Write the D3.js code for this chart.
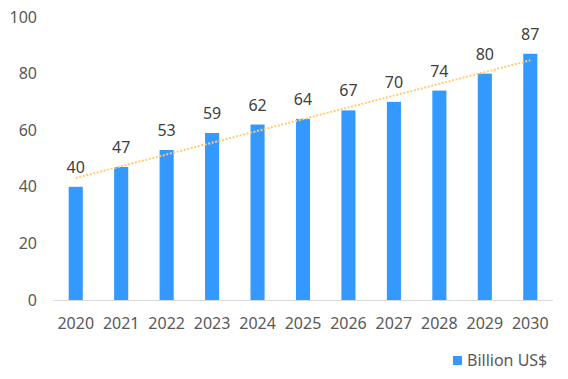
<!DOCTYPE html>
<html><head><meta charset="utf-8">
<script src="https://cdn.jsdelivr.net/npm/d3@7"></script>
<style>html,body{margin:0;padding:0;background:#fff;}svg{display:block;}</style>
</head><body>
<svg id="chart" width="568" height="379"></svg>
<script>
const years = ["2020","2021","2022","2023","2024","2025","2026","2027","2028","2029","2030"];
const values = [40,47,53,59,62,64,67,70,74,80,87];
const yTicks = [0,20,40,60,80,100];
const trendEnds = [43.1, 84.7];
const seriesName = "Billion US$";

const svg = d3.select("#chart");
const font = "'Noto Sans', 'Open Sans', sans-serif";
const x = d3.scaleBand().domain(years).range([53, 553]).paddingInner(0.69).paddingOuter(0.345);
const y = d3.scaleLinear().domain([0, 100]).range([300, 17]);

// y labels
svg.append("g").selectAll("text").data(yTicks).join("text")
  .attr("x", 37).attr("y", d => y(d)).attr("dy", "0.35em")
  .attr("text-anchor", "end").attr("font-family", font).attr("font-size", 16).attr("fill", "#595959")
  .text(d => d);

// bars
svg.append("g").selectAll("rect").data(values).join("rect")
  .attr("x", (d,i) => x(years[i])).attr("width", x.bandwidth())
  .attr("y", d => y(d)).attr("height", d => y(0) - y(d))
  .attr("fill", "#3399FF");

// axis line
svg.append("line").attr("x1", 53).attr("x2", 553).attr("y1", y(0)+0.5).attr("y2", y(0)+0.5)
  .attr("stroke", "#d9d9d9").attr("stroke-width", 1);

// x labels
svg.append("g").selectAll("text").data(years).join("text")
  .attr("x", d => x(d) + x.bandwidth()/2).attr("y", 329)
  .attr("text-anchor", "middle").attr("font-family", font).attr("font-size", 16).attr("fill", "#595959")
  .text(d => d);

// trend line
const cx = d => x(d) + x.bandwidth()/2;
svg.append("line")
  .attr("x1", cx(years[0])).attr("y1", y(trendEnds[0]))
  .attr("x2", cx(years[years.length-1])).attr("y2", y(trendEnds[1]))
  .attr("stroke", "#FFCC70").attr("stroke-width", 2).attr("stroke-dasharray", "2,1.6");

// value labels
svg.append("g").selectAll("text").data(values).join("text")
  .attr("x", (d,i) => cx(years[i])).attr("y", d => y(d) - 14)
  .attr("text-anchor", "middle").attr("font-family", font).attr("font-size", 16).attr("fill", "#404040")
  .text(d => d);

// legend
svg.append("rect").attr("x", 453).attr("y", 356).attr("width", 9).attr("height", 9).attr("fill", "#3399FF");
svg.append("text").attr("x", 467).attr("y", 366).attr("font-family", font).attr("font-size", 16)
  .attr("fill", "#595959").text(seriesName);
</script>
</body></html>
